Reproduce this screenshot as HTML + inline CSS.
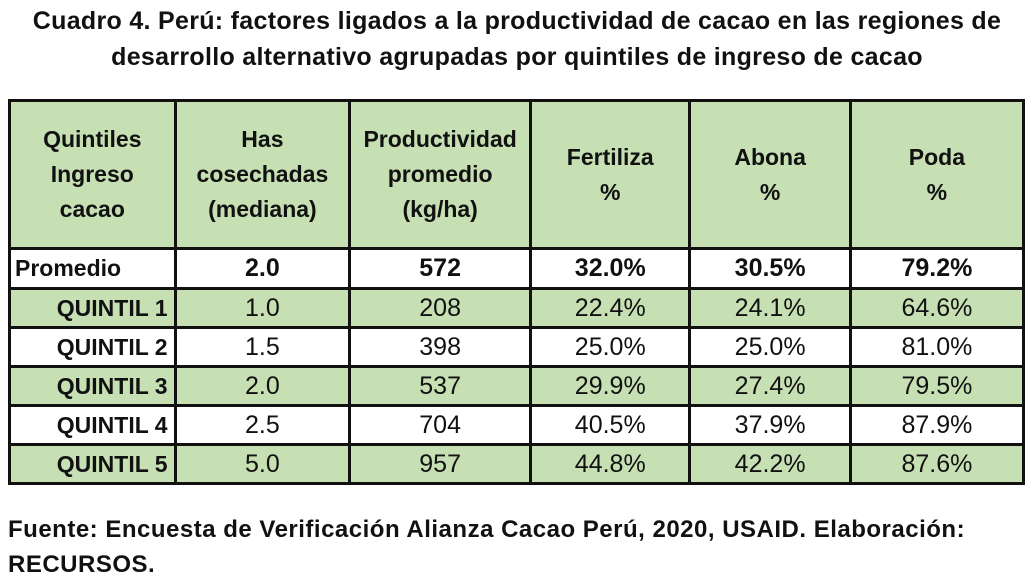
<!DOCTYPE html>
<html><head><meta charset="utf-8"><style>
body{margin:0;width:1034px;height:581px;background:#fff;font-family:"Liberation Sans",sans-serif;position:relative;overflow:hidden}
.t{position:absolute;left:0;width:1034px;text-align:center;font-weight:bold;font-size:25px;color:#111;letter-spacing:0.3px}
table{position:absolute;left:8px;top:99px;border-collapse:collapse;width:1017px}
td{border:3px solid #111;text-align:center;font-size:25px;color:#111;padding:0}
.h td{height:145px;font-weight:bold;font-size:23px;line-height:35px;background:#c6e0b4}
.g td{background:#c6e0b4}
.r td{height:36px}
.q{text-align:right;padding-right:6px;font-weight:bold;font-size:23px}
.f{position:absolute;left:8px;top:512px;font-weight:bold;font-size:24px;line-height:35px;color:#111;letter-spacing:0.5px}
</style></head><body>
<div class="t" style="top:7px">Cuadro 4. Perú: factores ligados a la productividad de cacao en las regiones de</div>
<div class="t" style="top:43px">desarrollo alternativo agrupadas por quintiles de ingreso de cacao</div>
<table>
<colgroup><col style="width:166px"><col style="width:175px"><col style="width:181px"><col style="width:160px"><col style="width:161px"><col style="width:174px"></colgroup>
<tr class="h"><td>Quintiles<br>Ingreso<br>cacao</td><td>Has<br>cosechadas<br>(mediana)</td><td>Productividad<br>promedio<br>(kg/ha)</td><td>Fertiliza<br>%</td><td>Abona<br>%</td><td>Poda<br>%</td></tr>
<tr class="r" style="font-weight:bold"><td style="text-align:left;padding-left:4px;font-size:23px;height:37px">Promedio</td><td><b>2.0</b></td><td><b>572</b></td><td><b>32.0%</b></td><td><b>30.5%</b></td><td><b>79.2%</b></td></tr>
<tr class="r g"><td class="q">QUINTIL 1</td><td>1.0</td><td>208</td><td>22.4%</td><td>24.1%</td><td>64.6%</td></tr>
<tr class="r"><td class="q">QUINTIL 2</td><td>1.5</td><td>398</td><td>25.0%</td><td>25.0%</td><td>81.0%</td></tr>
<tr class="r g"><td class="q">QUINTIL 3</td><td>2.0</td><td>537</td><td>29.9%</td><td>27.4%</td><td>79.5%</td></tr>
<tr class="r"><td class="q">QUINTIL 4</td><td>2.5</td><td>704</td><td>40.5%</td><td>37.9%</td><td>87.9%</td></tr>
<tr class="r g"><td class="q">QUINTIL 5</td><td>5.0</td><td>957</td><td>44.8%</td><td>42.2%</td><td>87.6%</td></tr>
</table>
<div class="f">Fuente: Encuesta de Verificación Alianza Cacao Perú, 2020, USAID. Elaboración:<br>RECURSOS.</div>
</body></html>
